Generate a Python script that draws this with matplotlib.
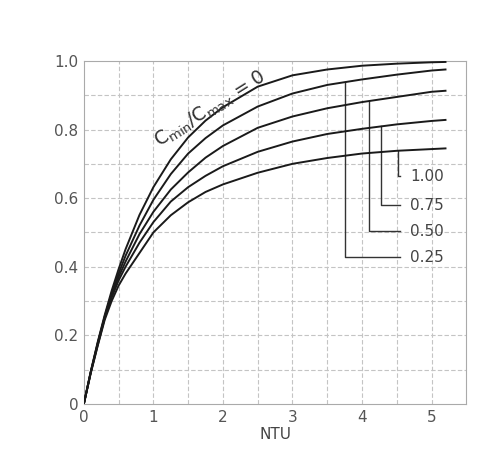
import matplotlib
matplotlib.use("Agg")
import matplotlib.pyplot as plt
import numpy as np

# effectiveness vs NTU
ntu = [0, 0.1, 0.2, 0.3, 0.4, 0.5, 0.6, 0.8, 1.0, 1.25, 1.5, 1.75,
       2.0, 2.5, 3.0, 3.5, 4.0, 4.5, 5.0, 5.2]
eff_0 = [0, 0.095, 0.181, 0.259, 0.330, 0.393, 0.451, 0.551, 0.632, 0.713,
         0.777, 0.826, 0.865, 0.925, 0.958, 0.975, 0.986, 0.992, 0.996, 0.997]
eff_025 = [0, 0.094, 0.178, 0.255, 0.322, 0.380, 0.432, 0.520, 0.595, 0.670,
           0.730, 0.775, 0.812, 0.867, 0.905, 0.930, 0.946, 0.960, 0.972, 0.975]
eff_050 = [0, 0.093, 0.176, 0.252, 0.318, 0.370, 0.415, 0.495, 0.560, 0.625,
           0.675, 0.718, 0.752, 0.805, 0.838, 0.862, 0.880, 0.895, 0.910, 0.913]
eff_075 = [0, 0.092, 0.172, 0.250, 0.310, 0.360, 0.400, 0.470, 0.530, 0.590,
           0.632, 0.665, 0.693, 0.735, 0.765, 0.787, 0.802, 0.815, 0.825, 0.828]
eff_100 = [0, 0.090, 0.170, 0.245, 0.300, 0.345, 0.380, 0.440, 0.500, 0.550,
           0.588, 0.618, 0.640, 0.674, 0.700, 0.717, 0.730, 0.738, 0.743, 0.745]

ratio_labels = ["0.25", "0.50", "0.75", "1.00"]
leader_x = [3.76, 4.10, 4.27, 4.51]
label_y = [0.427, 0.503, 0.579, 0.664]

fig = plt.figure(figsize=(5.02, 4.58), dpi=100)
ax = fig.add_axes([0.167, 0.118, 0.762, 0.749])

# light scanned-paper grid
for gx in np.arange(0.5, 5.5, 0.5):
    ax.axvline(gx, color="#c4c4c4", lw=0.8, ls=(0, (4, 2)), zorder=0)
for gy in np.arange(0.1, 1.0, 0.1):
    ax.axhline(gy, color="#c4c4c4", lw=0.8, ls=(0, (4, 2)), zorder=0)

curves = [eff_0, eff_025, eff_050, eff_075, eff_100]
for c in curves:
    ax.plot(ntu, c, color="#1a1a1a", lw=1.4, zorder=3)

# leader lines from curves to the ratio labels
for lab, lx, ly, c in zip(ratio_labels, leader_x, label_y, curves[1:]):
    top = np.interp(lx, ntu, c)
    ax.plot([lx, lx, 4.54], [top, ly, ly], color="#333333", lw=1.0, zorder=2)
    ax.text(4.69, ly, lab, fontsize=11, color="#444444", va="center", ha="left")

ax.text(1.82, 0.858, r"C$_{\rm min}$/C$_{\rm max}$ = 0", rotation=32,
        fontsize=13.5, color="#333333", ha="center", va="center")

ax.set_xlim(0, 5.5)
ax.set_ylim(0, 1.0)
ax.set_xticks([0, 1, 2, 3, 4, 5])
ax.set_yticks([0, 0.2, 0.4, 0.6, 0.8, 1.0])
ax.set_yticklabels(["0", "0.2", "0.4", "0.6", "0.8", "1.0"])
ax.tick_params(length=0, labelsize=11, labelcolor="#555555", pad=4)
ax.set_xlabel("NTU", fontsize=11, color="#444444", labelpad=2)
for s in ax.spines.values():
    s.set_color("#aaaaaa")
    s.set_linewidth(0.8)

fig.savefig("out.png", dpi=100)
